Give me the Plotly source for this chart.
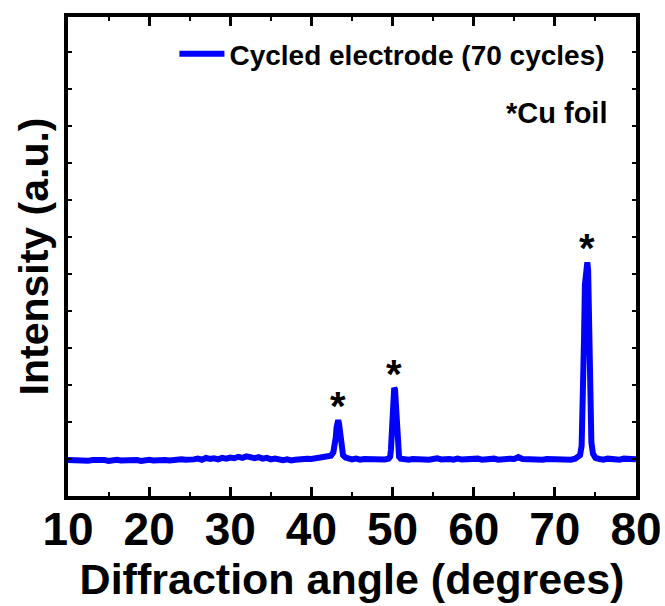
import plotly.graph_objects as go

# Diffraction angle (degrees) and intensity (a.u.)
two_theta = [
    10.0, 10.5, 11.0, 11.5, 12.0, 12.5, 13.0, 13.5, 14.0, 14.5, 15.0, 15.5, 16.0, 16.5, 17.0, 17.5,
    18.0, 18.5, 19.0, 19.5, 20.0, 20.5, 21.0, 21.5, 22.0, 22.5, 23.0, 23.5, 24.0, 24.5, 25.0, 25.5,
    26.0, 26.5, 27.0, 27.5, 28.0, 28.5, 29.0, 29.5, 30.0, 30.5, 31.0, 31.5, 32.0, 32.5, 33.0, 33.5,
    34.0, 34.5, 35.0, 35.5, 36.0, 36.5, 37.0, 37.5, 38.0, 38.5, 39.0, 39.5, 40.0, 40.5, 41.0, 41.5,
    42.0, 42.4, 42.7, 42.9, 43.0, 43.1, 43.2, 43.3, 43.4, 43.5, 43.6, 43.7, 43.9, 44.2, 44.5, 45.0,
    45.5, 46.0, 46.5, 47.0, 47.5, 48.0, 48.5, 49.0, 49.5, 49.7, 49.8, 49.9, 50.0, 50.1, 50.2, 50.3,
    50.4, 50.5, 50.6, 50.8, 51.0, 51.5, 52.0, 52.5, 53.0, 53.5, 54.0, 54.5, 55.0, 55.5, 56.0, 56.5,
    57.0, 57.5, 58.0, 58.5, 59.0, 59.5, 60.0, 60.5, 61.0, 61.5, 62.0, 62.5, 63.0, 63.5, 64.0, 64.5,
    65.0, 65.5, 66.0, 66.5, 67.0, 67.5, 68.0, 68.5, 69.0, 69.5, 70.0, 70.5, 71.0, 71.5, 72.0, 72.5,
    72.8, 73.1, 73.3, 73.5, 73.6, 73.7, 73.8, 73.9, 74.0, 74.1, 74.2, 74.3, 74.4, 74.5, 74.7, 75.0,
    75.5, 76.0, 76.5, 77.0, 77.5, 78.0, 78.5, 79.0, 79.5, 80.0,
]
intensity = [
    97, 96, 98, 96, 97, 95, 97, 98, 96, 97, 95, 97, 98, 96, 97, 96,
    98, 97, 95, 97, 98, 96, 97, 99, 97, 96, 98, 97, 99, 98, 97, 99,
    101, 98, 103, 100, 102, 99, 103, 101, 104, 102, 106, 103, 107, 104, 102, 105,
    101, 103, 99, 101, 98, 97, 99, 96, 98, 100, 99, 101, 100, 102, 101, 104,
    105, 109, 118, 135, 158, 185, 200, 205, 196, 170, 142, 122, 110, 104, 101, 99,
    101, 98, 100, 99, 101, 98, 100, 99, 101, 106, 125, 190, 262, 274, 292, 288,
    240, 165, 122, 106, 101, 99, 98, 100, 99, 101, 100, 98, 100, 102, 99, 101,
    100, 98, 101, 99, 100, 102, 99, 101, 98, 100, 99, 101, 98, 100, 99, 101,
    100, 105, 100, 99, 101, 99, 100, 98, 100, 99, 98, 100, 97, 99, 98, 101,
    104, 110, 135, 260, 430, 570, 615, 626, 632, 610, 500, 345, 210, 145, 114, 103,
    100, 98, 101, 99, 100, 98, 101, 99, 100, 99,
]

# Cu foil reflections marked with an asterisk
cu_peak_angle = [43.3, 50.2, 74.0]
cu_peak_height = [205, 292, 632]

series_name = "Cycled electrode (70 cycles)"
x_ticks = [10, 20, 30, 40, 50, 60, 70, 80]

FONT = "Liberation Sans, Arial, sans-serif"

fig = go.Figure()
fig.add_trace(go.Scatter(
    x=two_theta, y=intensity, mode="lines", name=series_name,
    line=dict(color="#0000FF", width=6),
))

for xa, ya in zip(cu_peak_angle, cu_peak_height):
    fig.add_annotation(x=xa, y=ya, text="*", showarrow=False,
                       yanchor="bottom", yshift=-10,
                       font=dict(family=FONT, size=40, color="black", weight="bold"))

fig.add_annotation(xref="paper", yref="paper", x=0.955, y=0.80,
                   xanchor="right", yanchor="middle", showarrow=False,
                   text="*Cu foil",
                   font=dict(family=FONT, size=29, color="black", weight="bold"))

axis_common = dict(
    showline=True, linewidth=4, linecolor="black", mirror="ticks",
    ticks="inside", tickcolor="black", showgrid=False, zeroline=False,
    automargin=False,
)

fig.update_xaxes(
    range=[10, 80], tickvals=x_ticks, ticklen=9, tickwidth=3,
    minor=dict(dtick=5, tick0=10, ticks="inside", ticklen=4, tickwidth=2, tickcolor="black"),
    tickfont=dict(family=FONT, size=46, color="black", weight="bold"),
    ticklabelstandoff=-10,
    title=dict(text="Diffraction angle (degrees)", standoff=4,
               font=dict(family=FONT, size=43, color="black", weight="bold")),
    **axis_common,
)
fig.update_yaxes(
    range=[0, 1295], dtick=100, tick0=0, ticklen=4, tickwidth=2,
    showticklabels=False,
    title=dict(text="Intensity (a.u.)", standoff=4,
               font=dict(family=FONT, size=41, color="black", weight="bold")),
    **axis_common,
)

fig.update_layout(
    width=665, height=606,
    margin=dict(l=68, r=29, t=17, b=110),
    plot_bgcolor="white", paper_bgcolor="white",
    showlegend=True,
    legend=dict(x=0.955, y=0.975, xanchor="right", yanchor="top",
                bgcolor="rgba(0,0,0,0)", borderwidth=0,
                font=dict(family=FONT, size=28, color="black", weight="bold")),
    legend_itemwidth=45,
)

fig.write_html("out.html")
